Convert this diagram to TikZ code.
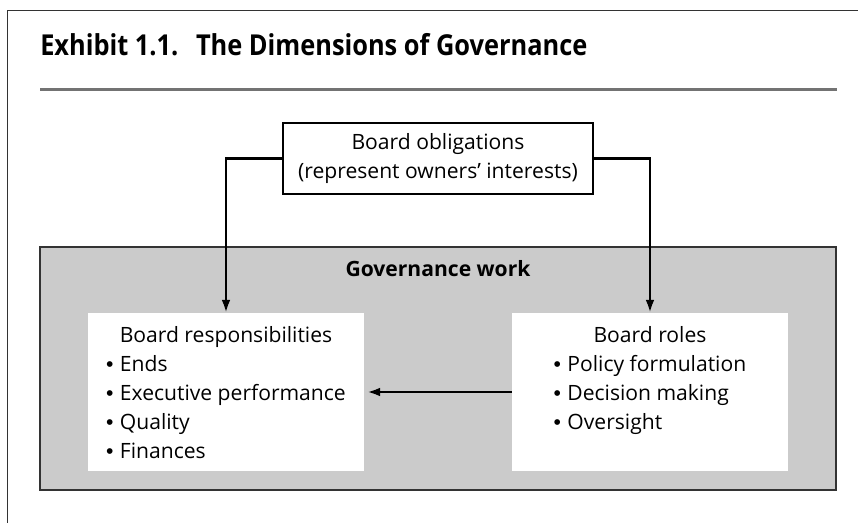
\documentclass[tikz,border=0pt]{standalone}
\usepackage{fontspec}
\usepackage{graphicx}
\setmainfont{Open Sans}
\newfontfamily\bulfont{Liberation Sans}
\usetikzlibrary{arrows.meta}
\definecolor{workgray}{rgb}{0.796, 0.796, 0.796}
\definecolor{edgegray}{rgb}{0.2, 0.2, 0.2}
\definecolor{rulegray}{rgb}{0.45, 0.45, 0.45}
\newcommand{\bul}{{\bulfont •}\hspace{0.3em}}
\tikzset{flow/.style={line width=1.7pt, -{Latex[length=3.2mm, width=2.2mm]}}}
\tikzset{panel/.style={fill=white, minimum width=6.9cm, minimum height=3.95cm, inner sep=0pt}}
\tikzset{body/.style={font=\fontsize{15}{20.6}\selectfont}}

\begin{document}
\begin{tikzpicture}[x=0.025cm, y=-0.025cm]
        \useasboundingbox (0,0) rectangle (858,523);
        \draw[line width=1.3pt, color=edgegray] (858,10.5) -- (7.5,10.5) -- (7.5,523);
        \node[anchor=base west, inner sep=0pt, font=\fontsize{20.5}{26}\selectfont\bfseries] (title) at (40,56) {\scalebox{0.88}[1]{Exhibit 1.1.\hspace{0.35em} The Dimensions of Governance}};
        \draw[line width=1.6pt, color=rulegray] (40,89.5) -- (837,89.5);

        \node[draw, line width=1.2pt, body, align=center, inner sep=0pt, minimum width=7.75cm, minimum height=1.775cm] (oblig) at (438,158.5) {Board obligations\\(represent owners’ interests)};

        \node[draw=edgegray, fill=workgray, line width=1.2pt, inner sep=0pt, minimum width=19.9cm, minimum height=6.075cm] (work) at (438,368.5) {};
        \node[body, anchor=base, inner sep=0pt] (worklabel) at (438,277) {\bfseries Governance work};

        \node[panel] (resp) at (226,392) {};
        \node[panel] (roles) at (650,392) {};
        \node[body, anchor=north, inner sep=0pt] (resptext) at ([yshift=-0.225cm]resp.north) {\begin{tabular}{@{}l@{}}\multicolumn{1}{@{}c@{}}{Board responsibilities}\\ \bul Ends\\ \bul Executive performance\\ \bul Quality\\ \bul Finances\end{tabular}};
        \node[body, anchor=north, inner sep=0pt] (rolestext) at ([yshift=-0.225cm]roles.north) {\begin{tabular}{@{}l@{}}\multicolumn{1}{@{}c@{}}{Board roles}\\ \bul Policy formulation\\ \bul Decision making\\ \bul Oversight\end{tabular}};

        \draw [flow] (oblig.west) -| (resp.north);
        \draw [flow] (oblig.east) -| (roles.north);
        \draw [flow, shorten >=0.075cm] (roles.west) -- (resp.east);

    \end{tikzpicture}
\end{document}
